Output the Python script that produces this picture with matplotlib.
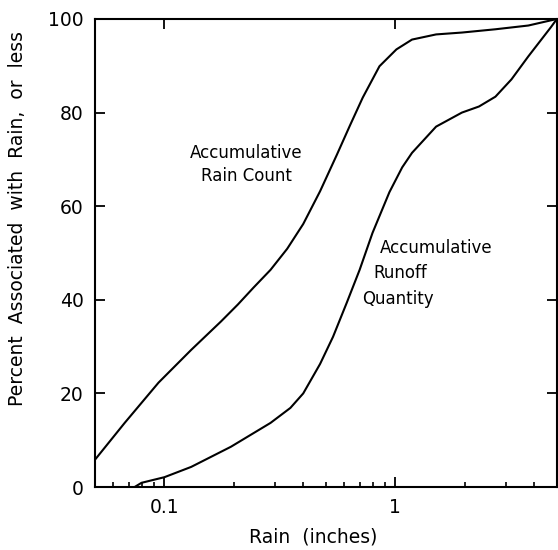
import numpy as np
import matplotlib
matplotlib.use("Agg")
import matplotlib.pyplot as plt
from matplotlib.ticker import LogLocator, NullFormatter

rain_x = [0.05, 0.0673, 0.0943, 0.1306, 0.176, 0.208, 0.243, 0.288, 0.340, 0.399,
          0.472, 0.558, 0.635, 0.722, 0.853, 1.01, 1.18, 1.50, 1.94, 2.71, 3.76, 5.0]
rain_y = [5.8, 13.7, 22.3, 29.3, 35.4, 39.0, 42.6, 46.4, 50.9, 56.2,
          63.2, 71.0, 77.2, 83.2, 89.9, 93.5, 95.6, 96.7, 97.1, 97.8, 98.6, 100.0]

runoff_x = [0.0743, 0.0796, 0.1, 0.1306, 0.194, 0.288, 0.351, 0.399, 0.472, 0.537,
            0.616, 0.700, 0.796, 0.942, 1.07, 1.18, 1.50, 1.94, 2.30, 2.71, 3.18,
            3.76, 4.72, 5.0]
runoff_y = [0.0, 0.9, 2.1, 4.3, 8.6, 13.7, 16.9, 20.0, 26.3, 32.1,
            39.4, 46.4, 54.3, 63.0, 68.3, 71.4, 77.0, 80.0, 81.3, 83.4, 87.1,
            92.0, 98.3, 100.0]

yticks = [0, 20, 40, 60, 80, 100]
xticks = [0.1, 1]
xticklabels = ["0.1", "1"]

plt.rcParams['font.family'] = 'DejaVu Sans'
fig = plt.figure(figsize=(5.58, 5.5), dpi=100)
ax = fig.add_axes([0.170, 0.1145, 0.828, 0.851])

ax.plot(rain_x, rain_y, c='k', lw=1.5)
ax.plot(runoff_x, runoff_y, c='k', lw=1.5)

ax.set_xscale('log')
ax.set_xlim(0.05, 5)
ax.set_ylim(0, 100)
ax.set_yticks(yticks)
ax.set_xticks(xticks)
ax.set_xticklabels(xticklabels)
ax.xaxis.set_minor_locator(LogLocator(base=10, subs=np.arange(2, 10)))
ax.xaxis.set_minor_formatter(NullFormatter())
for s in ax.spines.values():
    s.set_linewidth(1.5)
ax.tick_params(which='major', direction='in', length=7, width=1.3, labelsize=13.5,
               top=True, right=True, pad=8)
ax.tick_params(which='minor', direction='in', length=3.5, width=1.2, top=False)

ax.set_xlabel("Rain  (inches)", fontsize=13.5, va='center')
ax.xaxis.set_label_coords(0.472, -0.107)
fig.text(18/558, 1 - 219/550, "Percent  Associated  with  Rain,  or  less", rotation=90,
         fontsize=13.5, ha='center', va='center')

ax.text(0.227, 68.9, "Accumulative\nRain Count", fontsize=12, ha='center', va='center',
        linespacing=1.3)
ax.text(0.86, 51.1, "Accumulative", fontsize=12, ha='left', va='center')
ax.text(0.80, 45.8, "Runoff", fontsize=12, ha='left', va='center')
ax.text(0.72, 40.2, "Quantity", fontsize=12, ha='left', va='center')

plt.savefig('out.png')
plt.close()
